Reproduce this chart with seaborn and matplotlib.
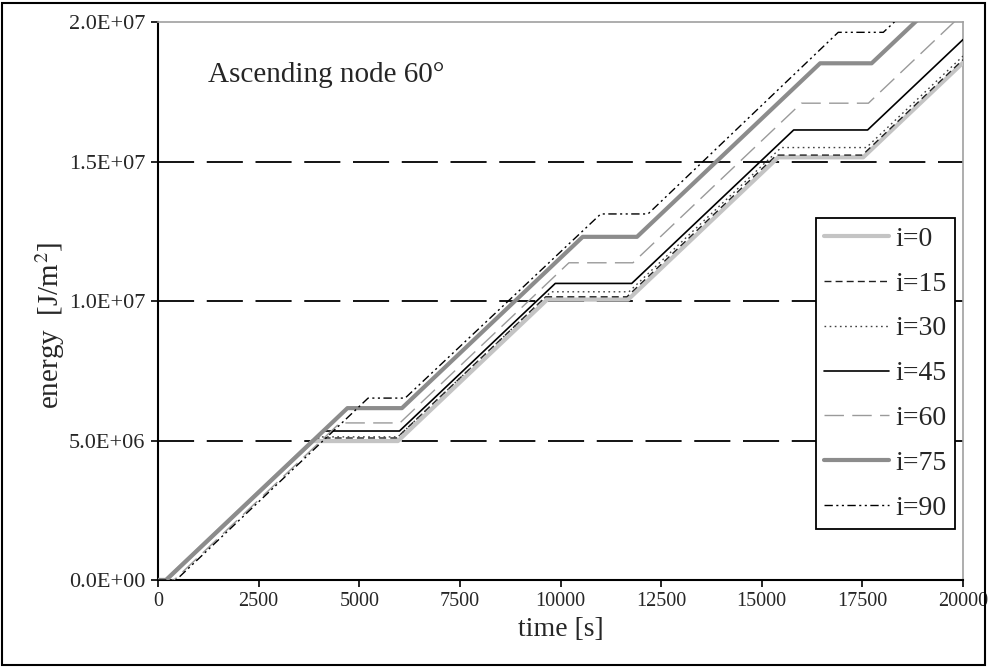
import matplotlib
matplotlib.use("Agg")
import matplotlib.pyplot as plt
import seaborn as sns
import pandas as pd
from matplotlib.ticker import FuncFormatter
from matplotlib.patches import Rectangle

# ---- data ----
labels = ["i=0", "i=15", "i=30", "i=45", "i=60", "i=75", "i=90"]
t_i0 = [0, 200, 3843, 5960, 9669, 11680, 15411, 17520, 20000]
E_i0 = [0, 0, 4.98e6, 4.98e6, 10.05e6, 10.05e6, 15.15e6, 15.15e6, 18.54e6]
t_i15 = [0, 200, 3923, 5930, 9632, 11650, 15366, 17500, 20000]
E_i15 = [0, 0, 5.09e6, 5.09e6, 10.15e6, 10.15e6, 15.23e6, 15.23e6, 18.65e6]
t_i30 = [0, 200, 3953, 5960, 9764, 11700, 15482, 17600, 20000]
E_i30 = [0, 0, 5.13e6, 5.13e6, 10.33e6, 10.33e6, 15.5e6, 15.5e6, 18.78e6]
t_i45 = [0, 200, 4106, 6000, 9870, 11770, 15793, 17630, 20000]
E_i45 = [0, 0, 5.34e6, 5.34e6, 10.63e6, 10.63e6, 16.13e6, 16.13e6, 19.37e6]
t_i60 = [0, 400, 4519, 6010, 10209, 11800, 15984, 17650, 20000]
E_i60 = [0, 0, 5.63e6, 5.63e6, 11.37e6, 11.37e6, 17.09e6, 17.09e6, 20.3e6]
t_i75 = [0, 200, 4706, 6060, 10552, 11900, 16450, 17730, 20000]
E_i75 = [0, 0, 6.16e6, 6.16e6, 12.3e6, 12.3e6, 18.52e6, 18.52e6, 21.62e6]
t_i90 = [0, 450, 5220, 6140, 11000, 12174, 16900, 18020, 20000]
E_i90 = [0, 0, 6.52e6, 6.52e6, 13.12e6, 13.12e6, 19.63e6, 19.63e6, 22.3e6]

x_ticks = [0, 2500, 5000, 7500, 10000, 12500, 15000, 17500, 20000]
y_ticks = [0, 5e6, 1e7, 1.5e7, 2e7]
grid_levels = [5e6, 1e7, 1.5e7]

series_t = [t_i0, t_i15, t_i30, t_i45, t_i60, t_i75, t_i90]
series_E = [E_i0, E_i15, E_i30, E_i45, E_i60, E_i75, E_i90]

styles = {
    "i=0":  dict(color="#c4c4c4", lw=3.0, ls="-"),
    "i=15": dict(color="#202020", lw=1.0, ls=(0, (5, 3))),
    "i=30": dict(color="#404040", lw=1.0, ls=(0, (1.2, 2.5))),
    "i=45": dict(color="#000000", lw=1.2, ls="-"),
    "i=60": dict(color="#9a9a9a", lw=1.0, ls=(0, (14, 6))),
    "i=75": dict(color="#8c8c8c", lw=3.0, ls="-"),
    "i=90": dict(color="#000000", lw=1.0, ls=(0, (6, 2.5, 1.5, 2.5, 1.5, 2.5))),
}

frames = []
for lab, tt, ee in zip(labels, series_t, series_E):
    frames.append(pd.DataFrame({"time": tt, "energy": ee, "series": lab}))
df = pd.concat(frames, ignore_index=True)

sns.set_theme(style="white")
plt.rcParams["font.family"] = ["Liberation Serif", "DejaVu Serif"]
plt.rcParams["mathtext.fontset"] = "stix"

fig = plt.figure(figsize=(9.88, 6.67), dpi=100)
ax = fig.add_axes([158 / 988, 1 - 580 / 667, (963 - 158) / 988, (580 - 22) / 667])

for lev in grid_levels:
    ax.axhline(lev, color="black", lw=1.3, ls=(0, (20, 7)), zorder=1)

for lab in labels:
    sub = df[df["series"] == lab]
    st = styles[lab]
    sns.lineplot(data=sub, x="time", y="energy", ax=ax, sort=False, estimator=None,
                 color=st["color"], linewidth=st["lw"], linestyle=st["ls"],
                 label=lab, zorder=3)

ax.set_xlim(0, 20000)
ax.set_ylim(0, 2e7)
ax.set_xticks(x_ticks)
ax.set_yticks(y_ticks)
ax.yaxis.set_major_formatter(FuncFormatter(lambda v, p: f"{v:.1E}"))
ax.xaxis.set_major_formatter(FuncFormatter(lambda v, p: f"{int(v)}"))
ax.tick_params(axis="both", direction="out", length=5, width=1.2, color="black",
               bottom=True, left=True)
ax.tick_params(axis="y", labelsize=16, pad=4)
ax.tick_params(axis="x", labelsize=14.5, pad=4)

for side in ["left", "bottom"]:
    ax.spines[side].set_color("black")
    ax.spines[side].set_linewidth(1.5)
for side in ["top", "right"]:
    ax.spines[side].set_color("#a0a0a0")
    ax.spines[side].set_linewidth(1.2)

ax.set_xlabel("time [s]", fontsize=20, labelpad=4)
ax.set_ylabel(r"energy  [J/m$^{2}$]", fontsize=21)
ax.yaxis.set_label_coords(-0.113, 0.457)

ax.text(0.062, 0.905, "Ascending node 60°", transform=ax.transAxes, fontsize=21,
        va="center", ha="left")

leg = ax.legend(loc="upper right", bbox_to_anchor=(0.990, 0.649), borderaxespad=0,
                fontsize=20, frameon=True, fancybox=False, framealpha=1,
                labelspacing=0.70, handlelength=2.35, handletextpad=0.22,
                borderpad=0.3)
leg.get_frame().set_edgecolor("black")
leg.get_frame().set_linewidth(1.3)

fig.patches.append(Rectangle((2 / 988, 2 / 667), 983 / 988, 662 / 667,
                             transform=fig.transFigure, fill=False,
                             edgecolor="black", lw=1.5))

fig.savefig("out.png", dpi=100)
